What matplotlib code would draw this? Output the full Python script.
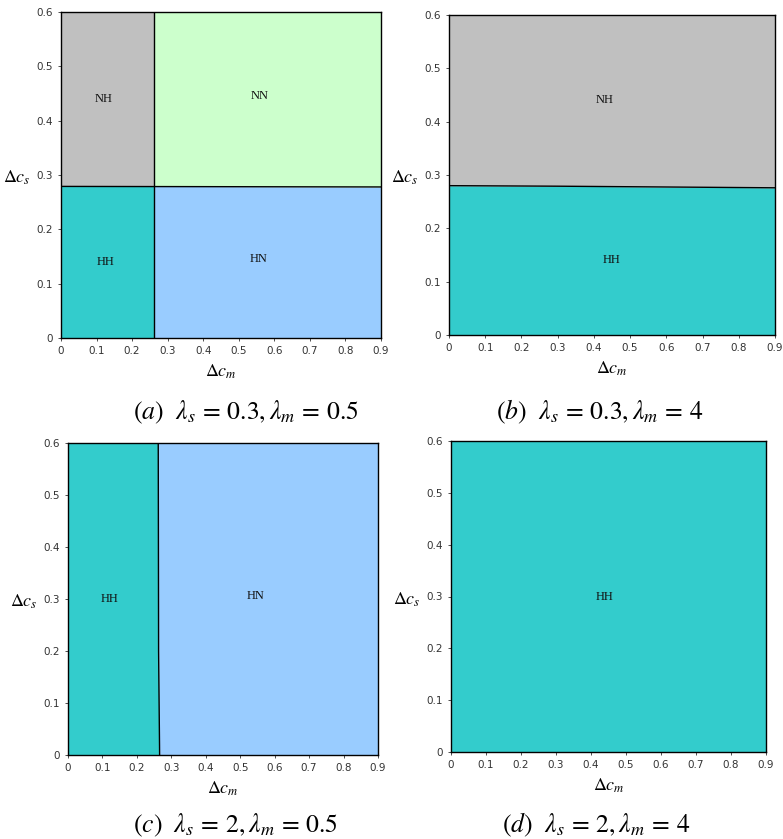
import numpy as np
import matplotlib.pyplot as plt

plt.rcParams['mathtext.fontset'] = 'stix'

# colours of the four regions
c_nh = "#c0c0c0"
c_nn = "#ccffcc"
c_hh = "#33cccc"
c_hn = "#99ccff"

# boundary curves (delta c_m, delta c_s)
a_vx = [0.262, 0.262]          # vertical boundary in (a), at dc_s = 0 and 0.6
a_hy = [0.279, 0.278]          # horizontal boundary in (a), at dc_m = 0 and 0.9
b_hx = [0.0, 0.3, 0.5, 0.7, 0.9]
b_hy = [0.280, 0.279, 0.278, 0.277, 0.276]
c_vy = [0.0, 0.2, 0.6]
c_vx = [0.266, 0.263, 0.262]

captions = [r"$(a)\ \ \lambda_s\,=\,0.3,\lambda_m\,=\,0.5$",
            r"$(b)\ \ \lambda_s\,=\,0.3,\lambda_m\,=\,4$",
            r"$(c)\ \ \lambda_s\,=\,2,\lambda_m\,=\,0.5$",
            r"$(d)\ \ \lambda_s\,=\,2,\lambda_m\,=\,4$"]

W, H = 783, 839
fig = plt.figure(figsize=(W / 100, H / 100), dpi=100)


def make_ax(x0, x1, y0, y1):
    ax = fig.add_axes([x0 / W, 1 - y1 / H, (x1 - x0) / W, (y1 - y0) / H])
    ax.set_xlim(0, 0.9)
    ax.set_ylim(0, 0.6)
    ax.set_xticks(np.arange(0, 0.91, 0.1))
    ax.set_yticks(np.arange(0, 0.61, 0.1))
    ax.set_xticklabels(["0"] + ["%.1f" % v for v in np.arange(0.1, 0.91, 0.1)])
    ax.set_yticklabels(["0"] + ["%.1f" % v for v in np.arange(0.1, 0.61, 0.1)])
    ax.tick_params(labelsize=7.5, length=2.5, width=0.6, pad=3, colors="#333333")
    for s in ax.spines.values():
        s.set_linewidth(1.0)
    ax.set_xlabel(r"$\mathit{\Delta c}_m$", fontsize=13, labelpad=5)
    ax.set_ylabel(r"$\mathit{\Delta c}_s$", fontsize=13, rotation=0, ha="right", va="center")
    ax.yaxis.set_label_coords(-30 / (x1 - x0), 0.49)
    return ax


def txt(ax, x, y, s):
    ax.text(x, y, s, fontsize=9, family="Liberation Serif", ha="center", va="center", color="#111111")


# (a)
ax = make_ax(61, 381, 12, 338)
ax.fill_between([0, a_vx[0]], 0, a_hy[0], color=c_hh, lw=0)
ax.fill_between([0, a_vx[0]], a_hy[0], 0.6, color=c_nh, lw=0)
ax.fill_between([a_vx[0], 0.9], 0, a_hy, color=c_hn, lw=0)
ax.fill_between([a_vx[0], 0.9], a_hy, 0.6, color=c_nn, lw=0)
ax.plot(a_vx, [0, 0.6], color="black", lw=1)
ax.plot([0, 0.9], a_hy, color="black", lw=1)
txt(ax, 0.12, 0.44, "NH")
txt(ax, 0.56, 0.445, "NN")
txt(ax, 0.125, 0.14, "HH")
txt(ax, 0.555, 0.145, "HN")

# (b)
ax = make_ax(449, 775, 15, 335)
ax.fill_between(b_hx, 0, b_hy, color=c_hh, lw=0)
ax.fill_between(b_hx, b_hy, 0.6, color=c_nh, lw=0)
ax.plot(b_hx, b_hy, color="black", lw=1)
txt(ax, 0.43, 0.44, "NH")
txt(ax, 0.45, 0.14, "HH")

# (c)
ax = make_ax(68, 378, 443, 755)
ax.fill_betweenx(c_vy, 0, c_vx, color=c_hh, lw=0)
ax.fill_betweenx(c_vy, c_vx, 0.9, color=c_hn, lw=0)
ax.plot(c_vx, c_vy, color="black", lw=1)
txt(ax, 0.12, 0.3, "HH")
txt(ax, 0.545, 0.305, "HN")

# (d)
ax = make_ax(451, 766, 441, 752)
ax.fill_between([0, 0.9], 0, 0.6, color=c_hh, lw=0)
txt(ax, 0.44, 0.3, "HH")

# captions
for (x, y), s in zip([(246, 412), (600, 412), (236, 825), (596, 825)], captions):
    fig.text(x / W, 1 - y / H, s, fontsize=18.5, ha="center", va="center")

fig.savefig("out.png", dpi=100)
